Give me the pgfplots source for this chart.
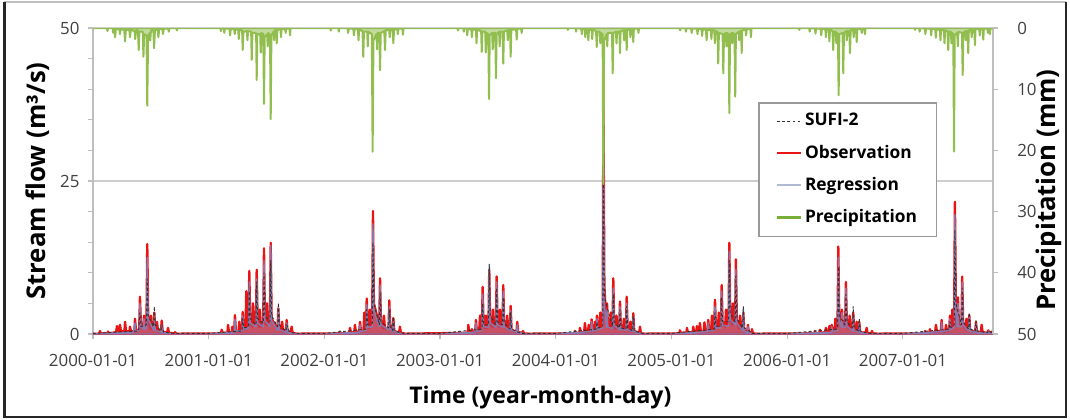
\documentclass[border=0pt]{standalone}
\usepackage{pgfplots}
\pgfplotsset{compat=1.18}
\usepackage{pgfplotstable}
\usepackage{fontspec}
\setmainfont{Open Sans}
\definecolor{obsred}{RGB}{235,20,20}
\definecolor{precgreen}{RGB}{146,190,80}
\definecolor{leggreen}{RGB}{120,175,55}
\definecolor{regblue}{RGB}{120,140,205}
\definecolor{leggray}{RGB}{175,185,210}
\definecolor{axgray}{RGB}{190,190,190}
\definecolor{gridgray}{RGB}{205,205,205}
\definecolor{labgray}{RGB}{64,64,64}

\pgfplotstableread{
x y
2000.000 0.05
2000.055 0.05
2000.060 0.5
2000.068 0.1
2000.125 0.1
2000.130 0.4
2000.138 0.1
2000.200 0.3
2000.207 1.3
2000.215 0.5
2000.228 0.4
2000.233 1.5
2000.241 0.5
2000.272 0.4
2000.277 2.0
2000.285 0.5
2000.315 0.4
2000.320 1.2
2000.328 0.4
2000.358 0.5
2000.363 2.5
2000.371 0.7
2000.399 0.7
2000.406 6.1
2000.414 1.5
2000.434 1.0
2000.441 3.0
2000.449 1.0
2000.462 1.2
2000.469 14.7
2000.477 3.0
2000.494 0.8
2000.501 3.0
2000.509 0.8
2000.523 0.7
2000.530 3.5
2000.538 0.7
2000.546 0.6
2000.553 2.0
2000.561 0.5
2000.587 0.4
2000.594 2.2
2000.602 0.4
2000.641 0.2
2000.648 1.0
2000.656 0.2
2000.704 0.1
2000.709 0.3
2000.720 0.05
2001.107 0.1
2001.112 0.7
2001.120 0.2
2001.162 0.2
2001.167 1.5
2001.175 0.3
2001.200 0.3
2001.205 1.2
2001.213 0.3
2001.220 0.4
2001.227 3.1
2001.235 0.5
2001.258 0.5
2001.265 2.0
2001.273 0.5
2001.287 0.6
2001.294 3.6
2001.302 0.8
2001.318 0.8
2001.325 7.0
2001.333 1.5
2001.344 1.2
2001.351 10.3
2001.359 2.0
2001.376 1.2
2001.383 5.0
2001.391 1.5
2001.408 1.5
2001.415 10.5
2001.423 2.0
2001.436 1.2
2001.443 4.0
2001.451 1.2
2001.471 1.5
2001.478 14.0
2001.486 2.5
2001.497 1.5
2001.504 5.0
2001.512 1.5
2001.529 1.5
2001.536 14.9
2001.544 2.5
2001.595 0.8
2001.602 4.2
2001.610 0.8
2001.628 0.6
2001.635 2.0
2001.643 0.5
2001.667 0.4
2001.674 2.3
2001.682 0.4
2001.710 0.3
2001.717 1.2
2001.725 0.2
2001.760 0.05
2002.130 0.1
2002.135 0.4
2002.143 0.1
2002.216 0.2
2002.221 1.0
2002.229 0.3
2002.259 0.3
2002.264 1.5
2002.272 0.4
2002.301 0.4
2002.308 2.0
2002.316 0.5
2002.338 0.5
2002.345 3.5
2002.353 0.7
2002.359 0.7
2002.366 5.8
2002.374 1.2
2002.387 1.0
2002.394 4.0
2002.402 1.5
2002.413 1.8
2002.420 20.1
2002.428 5.0
2002.474 1.5
2002.481 9.1
2002.489 1.8
2002.508 0.9
2002.515 3.0
2002.523 0.9
2002.554 0.9
2002.561 5.5
2002.569 1.0
2002.589 0.5
2002.596 2.6
2002.604 0.5
2002.646 0.2
2002.653 1.2
2002.661 0.2
2002.700 0.05
2003.239 0.2
2003.244 1.5
2003.252 0.3
2003.271 0.2
2003.276 0.8
2003.284 0.3
2003.303 0.3
2003.310 2.3
2003.318 0.5
2003.338 0.5
2003.345 3.0
2003.353 0.7
2003.361 0.7
2003.368 7.7
2003.376 1.5
2003.390 1.0
2003.397 3.0
2003.405 1.0
2003.418 1.2
2003.425 10.5
2003.433 2.0
2003.450 1.2
2003.457 4.0
2003.465 1.2
2003.482 1.2
2003.489 9.4
2003.497 1.8
2003.511 1.2
2003.518 4.0
2003.526 1.2
2003.539 1.2
2003.546 8.0
2003.554 1.5
2003.573 0.9
2003.580 3.0
2003.588 0.8
2003.603 0.7
2003.610 4.6
2003.618 0.7
2003.660 0.3
2003.667 2.0
2003.675 0.3
2003.712 0.2
2003.717 0.5
2003.725 0.1
2003.760 0.05
2004.161 0.1
2004.166 0.5
2004.174 0.2
2004.204 0.2
2004.209 1.0
2004.217 0.3
2004.245 0.3
2004.252 1.8
2004.260 0.4
2004.278 0.4
2004.285 1.5
2004.293 0.4
2004.303 0.5
2004.310 2.4
2004.318 0.6
2004.333 0.6
2004.340 2.0
2004.348 0.6
2004.349 0.7
2004.356 3.0
2004.364 0.9
2004.378 0.9
2004.385 3.5
2004.393 1.1
2004.405 1.5
2004.412 38.5
2004.420 8.0
2004.436 1.5
2004.443 5.0
2004.451 1.2
2004.468 1.0
2004.475 3.5
2004.483 1.0
2004.490 1.0
2004.497 9.1
2004.505 1.7
2004.518 0.9
2004.525 3.0
2004.533 0.9
2004.548 0.9
2004.555 5.3
2004.563 0.9
2004.581 0.6
2004.588 2.5
2004.596 0.6
2004.606 0.7
2004.613 6.1
2004.621 0.9
2004.638 0.5
2004.645 2.0
2004.653 0.5
2004.663 0.5
2004.670 3.4
2004.678 0.5
2004.721 0.2
2004.728 1.2
2004.736 0.1
2004.770 0.05
2005.068 0.1
2005.073 0.6
2005.081 0.2
2005.129 0.2
2005.134 1.0
2005.142 0.2
2005.183 0.3
2005.188 1.2
2005.196 0.3
2005.213 0.3
2005.220 1.3
2005.228 0.3
2005.239 0.4
2005.246 1.8
2005.254 0.4
2005.278 0.4
2005.285 1.9
2005.293 0.5
2005.311 0.5
2005.318 2.3
2005.326 0.6
2005.343 0.6
2005.350 3.0
2005.358 0.7
2005.369 0.7
2005.376 5.6
2005.384 1.2
2005.402 1.1
2005.409 3.5
2005.417 1.2
2005.427 1.2
2005.434 8.0
2005.442 1.7
2005.464 1.2
2005.471 4.0
2005.479 1.5
2005.493 1.5
2005.500 14.9
2005.508 3.0
2005.525 1.5
2005.532 5.0
2005.540 1.8
2005.550 1.8
2005.557 12.2
2005.565 2.2
2005.585 0.9
2005.592 3.0
2005.600 0.9
2005.614 0.7
2005.621 3.5
2005.629 0.6
2005.654 0.3
2005.661 1.5
2005.669 0.3
2005.691 0.2
2005.696 0.8
2005.704 0.1
2005.740 0.05
2006.192 0.1
2006.197 0.3
2006.205 0.1
2006.235 0.1
2006.240 0.5
2006.248 0.1
2006.278 0.2
2006.283 0.7
2006.291 0.2
2006.328 0.3
2006.335 1.0
2006.343 0.3
2006.358 0.3
2006.365 1.3
2006.373 0.4
2006.378 0.4
2006.385 1.5
2006.393 0.5
2006.410 0.5
2006.417 2.5
2006.425 0.9
2006.435 1.0
2006.442 14.3
2006.450 3.0
2006.467 1.2
2006.474 4.0
2006.482 1.2
2006.501 1.2
2006.508 8.5
2006.516 1.5
2006.533 0.9
2006.540 3.0
2006.548 0.9
2006.564 0.7
2006.571 3.5
2006.579 0.6
2006.593 0.5
2006.600 2.0
2006.608 0.4
2006.616 0.4
2006.623 2.0
2006.631 0.3
2006.680 0.2
2006.687 1.0
2006.695 0.1
2006.728 0.1
2006.733 0.5
2006.741 0.1
2006.780 0.05
2007.186 0.1
2007.191 0.5
2007.199 0.2
2007.229 0.2
2007.234 0.8
2007.242 0.2
2007.279 0.3
2007.286 1.5
2007.294 0.4
2007.328 0.5
2007.335 2.3
2007.343 0.5
2007.366 0.4
2007.373 1.5
2007.381 0.5
2007.400 0.6
2007.407 3.0
2007.415 0.9
2007.421 0.9
2007.428 4.0
2007.436 1.2
2007.443 1.5
2007.450 21.6
2007.458 5.0
2007.469 1.8
2007.476 6.0
2007.484 1.5
2007.506 1.5
2007.513 9.4
2007.521 1.8
2007.543 0.9
2007.550 2.5
2007.558 0.7
2007.567 0.6
2007.574 3.1
2007.582 0.6
2007.625 0.4
2007.632 2.0
2007.640 0.4
2007.674 0.3
2007.681 1.5
2007.689 0.3
2007.733 0.2
2007.738 0.6
2007.746 0.2
2007.765 0.2
2007.770 0.4
2007.779 0.2
}\obs

\pgfplotstableread{
x y
2000.000 0
2000.350 0.3
2000.363 1.8
2000.370 0.5
2000.400 0.6
2000.406 5.0
2000.414 1.2
2000.436 0.8
2000.441 2.5
2000.449 0.8
2000.463 1.0
2000.469 12.5
2000.477 2.5
2000.524 0.6
2000.530 3.0
2000.538 0.6
2000.588 0.3
2000.594 1.5
2000.602 0.3
2000.650 0.1
2000.700 0
2001.000 0
2001.220 0.3
2001.227 2.4
2001.235 0.5
2001.288 0.5
2001.294 3.0
2001.302 0.7
2001.345 1.0
2001.351 8.5
2001.359 1.8
2001.409 1.2
2001.415 9.0
2001.423 1.8
2001.472 1.2
2001.478 12.0
2001.486 2.2
2001.530 1.2
2001.536 14.5
2001.544 2.2
2001.596 0.6
2001.602 4.5
2001.610 0.7
2001.668 0.3
2001.674 1.8
2001.682 0.3
2001.750 0
2002.000 0
2002.300 0.3
2002.308 1.5
2002.316 0.4
2002.360 0.6
2002.366 4.8
2002.374 1.1
2002.414 1.2
2002.420 18.0
2002.428 4.0
2002.475 1.2
2002.481 8.0
2002.489 1.5
2002.555 0.7
2002.561 4.5
2002.569 0.8
2002.590 0.4
2002.596 2.0
2002.604 0.4
2002.680 0
2003.000 0
2003.300 0.3
2003.310 1.8
2003.318 0.4
2003.362 0.6
2003.368 6.5
2003.376 1.2
2003.419 1.1
2003.425 11.4
2003.433 1.8
2003.483 1.1
2003.489 8.5
2003.497 1.5
2003.540 1.1
2003.546 7.0
2003.554 1.2
2003.604 0.6
2003.610 3.8
2003.618 0.6
2003.661 0.3
2003.667 1.5
2003.675 0.3
2003.740 0
2004.000 0
2004.300 0.4
2004.310 2.0
2004.318 0.5
2004.350 0.6
2004.356 2.5
2004.364 0.7
2004.406 1.0
2004.412 36.0
2004.420 5.0
2004.437 1.1
2004.443 4.0
2004.451 1.1
2004.491 0.9
2004.497 7.5
2004.505 1.4
2004.549 0.7
2004.555 4.5
2004.563 0.7
2004.607 0.6
2004.613 5.0
2004.621 0.7
2004.664 0.4
2004.670 2.8
2004.678 0.4
2004.750 0
2005.000 0
2005.310 0.4
2005.318 1.8
2005.326 0.5
2005.370 0.6
2005.376 4.5
2005.384 1.0
2005.428 1.0
2005.434 7.0
2005.442 1.4
2005.494 1.3
2005.500 13.5
2005.508 2.4
2005.551 1.5
2005.557 10.5
2005.565 1.8
2005.615 0.5
2005.621 4.0
2005.629 0.5
2005.655 0.2
2005.661 1.2
2005.669 0.2
2005.720 0
2006.000 0
2006.380 0.3
2006.385 1.2
2006.393 0.4
2006.436 0.6
2006.442 12.5
2006.450 2.2
2006.468 1.1
2006.474 3.5
2006.482 1.1
2006.502 1.1
2006.508 7.5
2006.516 1.3
2006.565 0.5
2006.571 3.0
2006.579 0.5
2006.617 0.3
2006.623 1.7
2006.631 0.3
2006.700 0
2007.000 0
2007.330 0.4
2007.335 1.9
2007.343 0.4
2007.401 0.6
2007.407 2.5
2007.415 0.7
2007.444 1.2
2007.450 19.5
2007.458 4.0
2007.470 1.2
2007.476 5.0
2007.484 1.2
2007.507 1.2
2007.513 8.5
2007.521 1.5
2007.568 0.5
2007.574 2.7
2007.582 0.5
2007.626 0.3
2007.632 1.7
2007.640 0.3
2007.732 0.1
2007.738 0.5
2007.746 0.1
2007.779 0.1
}\reg

\pgfplotstableread{
x y
2000.000 0.1
2000.395 0.5
2000.406 3.5
2000.414 1.2
2000.462 1.5
2000.469 9.0
2000.477 3.0
2000.523 1.2
2000.530 4.5
2000.538 1.5
2000.588 0.5
2000.594 1.5
2000.610 0.3
2000.700 0.1
2001.000 0.1
2001.288 0.5
2001.294 2.5
2001.302 1.0
2001.345 1.2
2001.351 7.0
2001.359 2.5
2001.409 1.5
2001.415 8.5
2001.423 2.5
2001.472 1.8
2001.478 10.0
2001.486 3.0
2001.530 2.0
2001.536 12.0
2001.544 3.0
2001.596 1.2
2001.602 5.1
2001.610 1.5
2001.668 0.5
2001.674 1.5
2001.700 0.3
2001.750 0.1
2002.000 0.1
2002.360 0.8
2002.366 4.0
2002.374 1.5
2002.414 1.8
2002.420 15.0
2002.428 5.0
2002.475 1.5
2002.481 7.0
2002.489 2.0
2002.555 1.0
2002.561 4.0
2002.569 1.2
2002.590 0.6
2002.596 2.8
2002.604 0.5
2002.680 0.1
2003.000 0.1
2003.362 0.8
2003.368 5.0
2003.376 1.5
2003.419 1.5
2003.425 11.4
2003.433 3.0
2003.483 1.5
2003.489 7.5
2003.497 2.0
2003.540 1.5
2003.546 6.0
2003.554 1.8
2003.604 0.8
2003.610 3.5
2003.618 0.8
2003.700 0.1
2004.000 0.1
2004.350 0.8
2004.356 2.0
2004.364 1.0
2004.406 1.2
2004.412 30.0
2004.420 6.0
2004.491 1.2
2004.497 6.5
2004.505 2.0
2004.549 1.0
2004.555 4.0
2004.563 1.0
2004.607 0.8
2004.613 4.5
2004.621 1.0
2004.664 0.5
2004.670 3.0
2004.678 0.5
2004.750 0.1
2005.000 0.1
2005.370 0.8
2005.376 3.5
2005.384 1.3
2005.428 1.3
2005.434 6.0
2005.442 2.0
2005.494 2.0
2005.500 12.0
2005.508 3.5
2005.551 2.0
2005.557 9.5
2005.565 2.5
2005.615 1.0
2005.621 4.5
2005.629 1.0
2005.700 0.1
2006.000 0.1
2006.436 0.8
2006.442 11.0
2006.450 3.0
2006.502 1.5
2006.508 6.5
2006.516 2.0
2006.565 1.0
2006.571 4.5
2006.579 1.2
2006.617 0.5
2006.623 2.5
2006.631 0.5
2006.700 0.1
2007.000 0.1
2007.401 0.8
2007.407 2.0
2007.415 1.0
2007.444 1.5
2007.450 17.0
2007.458 5.0
2007.507 1.5
2007.513 7.5
2007.521 2.0
2007.568 0.8
2007.574 3.5
2007.582 0.8
2007.626 0.5
2007.632 2.2
2007.640 0.5
2007.732 0.2
2007.738 0.6
2007.779 0.1
}\sufi

\pgfplotstableread{
x y
2000.000 0
2000.120 0
2000.125 0.5
2000.130 0
2000.170 0
2000.175 0.8
2000.180 0.1
2000.186 0.1
2000.191 1.5
2000.197 0.2
2000.228 0.2
2000.233 1.0
2000.240 0.2
2000.270 0.3
2000.277 2.2
2000.284 0.3
2000.314 0.3
2000.320 1.5
2000.327 0.3
2000.360 0.5
2000.365 1.8
2000.372 0.4
2000.389 0.4
2000.395 3.6
2000.401 0.6
2000.430 0.6
2000.436 4.7
2000.442 1.0
2000.463 1.2
2000.469 12.7
2000.476 1.5
2000.490 0.8
2000.495 2.0
2000.501 0.4
2000.522 0.4
2000.528 3.3
2000.535 0.4
2000.560 0.2
2000.565 1.5
2000.572 0.2
2000.600 0.1
2000.605 1.0
2000.612 0.1
2000.650 0.1
2000.655 0.6
2000.662 0
2000.720 0
2000.725 0.4
2000.730 0
2001.100 0
2001.105 0.5
2001.110 0
2001.130 0.1
2001.135 0.8
2001.140 0.1
2001.180 0.1
2001.185 1.2
2001.190 0.2
2001.220 0.2
2001.225 1.0
2001.230 0.2
2001.255 0.3
2001.260 1.8
2001.266 0.3
2001.289 0.4
2001.294 3.6
2001.300 0.6
2001.330 0.5
2001.335 2.0
2001.340 0.5
2001.367 0.6
2001.372 5.2
2001.378 0.8
2001.410 0.8
2001.415 8.5
2001.420 1.0
2001.445 1.0
2001.450 4.0
2001.456 0.8
2001.472 1.0
2001.478 12.4
2001.484 1.5
2001.505 1.0
2001.510 3.0
2001.516 0.8
2001.530 1.2
2001.536 14.9
2001.542 1.2
2001.560 0.6
2001.565 2.0
2001.570 0.4
2001.583 0.4
2001.588 2.5
2001.594 0.3
2001.620 0.2
2001.625 1.5
2001.630 0.2
2001.660 0.1
2001.665 0.8
2001.670 0.1
2001.698 0.1
2001.703 1.2
2001.708 0
2002.050 0
2002.055 0.4
2002.060 0
2002.120 0
2002.125 0.6
2002.130 0
2002.200 0
2002.205 0.8
2002.210 0.1
2002.250 0.1
2002.255 1.2
2002.260 0.2
2002.290 0.2
2002.295 2.0
2002.300 0.3
2002.330 0.5
2002.336 4.7
2002.342 0.6
2002.370 0.6
2002.375 3.0
2002.380 0.6
2002.410 1.0
2002.417 20.2
2002.424 2.0
2002.450 1.0
2002.455 3.5
2002.460 0.8
2002.475 0.8
2002.481 6.9
2002.487 0.8
2002.518 0.5
2002.524 3.6
2002.530 0.4
2002.560 0.3
2002.565 1.5
2002.570 0.3
2002.590 0.3
2002.596 2.5
2002.602 0.3
2002.630 0.1
2002.635 1.0
2002.640 0.1
2002.674 0.1
2002.679 1.1
2002.684 0
2003.150 0
2003.155 0.4
2003.160 0
2003.200 0
2003.205 0.6
2003.210 0
2003.230 0.1
2003.235 1.2
2003.240 0.1
2003.270 0.2
2003.275 1.5
2003.280 0.2
2003.310 0.3
2003.315 2.5
2003.320 0.3
2003.355 0.5
2003.360 3.9
2003.366 0.6
2003.390 0.6
2003.395 4.0
2003.400 0.8
2003.417 1.0
2003.423 11.6
2003.429 1.2
2003.450 0.8
2003.455 3.5
2003.460 0.8
2003.477 0.8
2003.483 8.2
2003.489 1.0
2003.510 0.6
2003.515 3.0
2003.520 0.6
2003.540 0.6
2003.546 5.8
2003.552 0.6
2003.580 0.4
2003.585 2.0
2003.590 0.4
2003.605 0.4
2003.610 4.7
2003.616 0.3
2003.657 0.2
2003.662 1.9
2003.668 0.1
2003.700 0.1
2003.705 0.8
2003.710 0
2004.100 0
2004.105 0.3
2004.110 0
2004.170 0
2004.175 0.6
2004.180 0
2004.220 0.1
2004.225 1.0
2004.230 0.1
2004.250 0.2
2004.255 1.5
2004.260 0.2
2004.276 0.3
2004.281 2.0
2004.287 0.3
2004.310 0.3
2004.315 1.8
2004.320 0.3
2004.348 0.5
2004.354 3.1
2004.360 0.6
2004.380 0.6
2004.385 2.5
2004.390 0.8
2004.405 1.0
2004.411 25.5
2004.418 2.0
2004.440 1.0
2004.445 3.0
2004.450 0.8
2004.486 0.8
2004.492 7.4
2004.498 0.8
2004.520 0.6
2004.525 2.5
2004.530 0.6
2004.550 0.6
2004.555 4.1
2004.560 0.5
2004.585 0.4
2004.590 2.0
2004.595 0.4
2004.608 0.4
2004.613 3.6
2004.618 0.3
2004.640 0.2
2004.645 1.5
2004.650 0.2
2004.665 0.2
2004.670 2.3
2004.675 0.1
2004.710 0.1
2004.715 0.8
2004.720 0
2005.070 0
2005.075 0.4
2005.080 0
2005.120 0
2005.125 0.6
2005.130 0
2005.170 0.1
2005.175 0.8
2005.180 0.1
2005.220 0.1
2005.225 1.0
2005.230 0.1
2005.260 0.2
2005.265 1.3
2005.270 0.2
2005.298 0.3
2005.304 2.0
2005.310 0.3
2005.340 0.3
2005.345 1.8
2005.350 0.4
2005.370 0.4
2005.375 2.5
2005.380 0.5
2005.398 0.6
2005.404 5.8
2005.410 0.8
2005.442 1.0
2005.448 7.4
2005.454 1.0
2005.470 0.8
2005.475 3.0
2005.480 0.8
2005.494 1.0
2005.500 13.9
2005.506 1.2
2005.520 0.8
2005.525 2.5
2005.530 0.8
2005.545 1.0
2005.551 11.2
2005.557 1.0
2005.580 0.6
2005.585 2.0
2005.590 0.5
2005.602 0.5
2005.607 4.1
2005.612 0.4
2005.640 0.2
2005.645 1.2
2005.650 0.2
2005.682 0.1
2005.687 1.5
2005.692 0
2006.100 0
2006.105 0.3
2006.110 0
2006.190 0
2006.195 0.6
2006.200 0
2006.240 0.1
2006.245 0.9
2006.250 0.1
2006.290 0.1
2006.295 1.2
2006.300 0.1
2006.330 0.2
2006.335 1.5
2006.340 0.2
2006.360 0.3
2006.365 2.2
2006.370 0.3
2006.392 0.5
2006.398 3.6
2006.404 0.6
2006.420 0.6
2006.425 2.5
2006.430 0.8
2006.439 1.0
2006.445 11.0
2006.451 1.0
2006.479 0.8
2006.485 7.4
2006.491 0.8
2006.510 0.5
2006.515 2.0
2006.520 0.5
2006.537 0.5
2006.543 4.1
2006.549 0.4
2006.570 0.3
2006.575 1.5
2006.580 0.3
2006.596 0.2
2006.601 2.3
2006.606 0.2
2006.640 0.1
2006.645 0.8
2006.650 0.1
2006.667 0.1
2006.672 1.0
2006.677 0
2007.100 0
2007.105 0.3
2007.110 0
2007.140 0
2007.145 0.6
2007.150 0
2007.190 0.1
2007.195 1.0
2007.200 0.1
2007.240 0.1
2007.245 1.2
2007.250 0.1
2007.280 0.2
2007.285 1.6
2007.290 0.2
2007.320 0.3
2007.325 2.0
2007.330 0.3
2007.355 0.4
2007.360 2.5
2007.365 0.4
2007.386 0.5
2007.392 3.6
2007.398 0.6
2007.415 0.6
2007.420 2.5
2007.425 0.8
2007.436 1.0
2007.442 20.2
2007.448 1.2
2007.470 0.8
2007.475 3.0
2007.480 0.6
2007.511 0.8
2007.517 7.7
2007.523 0.8
2007.540 0.5
2007.545 2.0
2007.550 0.5
2007.560 0.5
2007.565 4.1
2007.570 0.4
2007.590 0.3
2007.595 1.5
2007.600 0.3
2007.618 0.3
2007.623 2.8
2007.628 0.2
2007.660 0.2
2007.665 1.2
2007.670 0.2
2007.690 0.2
2007.695 1.9
2007.700 0.1
2007.730 0.1
2007.735 0.8
2007.740 0.1
2007.747 0.1
2007.752 1.0
2007.757 0.1
2007.779 0
}\prec

\begin{document}
\begin{tikzpicture}
\pgfplotsset{
  every tick label/.append style={font=\fontsize{7.2}{8}\selectfont, text=labgray},
  /pgf/number format/assume math mode=true,
}
\begin{axis}[
  at={(0,0)}, anchor=south west,
  scale only axis, width=13.5cm, height=4.59cm,
  xmin=2000, xmax=2007.779, ymin=0, ymax=50,
  axis x line*=bottom, axis y line*=left,
  axis line style={draw=axgray, line width=0.5pt},
  xtick={2000,2001,2002,2003,2004,2005,2006,2007},
  xticklabels={2000-01-01,2001-01-01,2002-01-01,2003-01-01,2004-01-01,2005-01-01,2006-01-01,2007-01-01},
  ytick={0,25,50},
  minor ytick={5,10,15,20,30,35,40,45},
  tick align=outside,
  major tick length=0.08cm, minor tick length=0.08cm,
  tick style={draw=axgray, line width=0.5pt},
  ymajorgrids, major grid style={draw=gridgray, line width=0.5pt},
  xticklabel style={yshift=-0.1cm},
  yticklabel style={xshift=0cm},
  xlabel={\bfseries Time (year-month-day)},
  xlabel style={font=\fontsize{9.8}{11}\selectfont, at={(axis description cs:0.497,-0.206)}, anchor=center},
  ylabel={\bfseries Stream flow (m³/s)},
  ylabel style={font=\fontsize{11}{13}\selectfont, at={(axis description cs:-0.061,0.5)}, anchor=center},
  line join=round,
]
\addplot[draw=obsred, fill=obsred!85, line width=1.0pt] table[x=x,y=y] {\obs} \closedcycle;
\addplot[draw=regblue, fill=regblue, fill opacity=0.3, draw opacity=0.8, line width=0.6pt] table[x=x,y=y] {\reg} \closedcycle;
\addplot[black!80, line width=0.4pt, dash pattern=on 1.2pt off 1pt] table[x=x,y=y] {\sufi};
\end{axis}
\begin{axis}[
  at={(0,0)}, anchor=south west,
  scale only axis, width=13.5cm, height=4.59cm,
  xmin=2000, xmax=2007.779, ymin=0, ymax=50,
  y dir=reverse,
  axis x line=none, axis y line*=right,
  axis line style={draw=axgray, line width=0.5pt},
  ytick={0,10,20,30,40,50},
  tick align=outside, major tick length=0.08cm,
  tick style={draw=axgray, line width=0.5pt},
  yticklabel style={xshift=0.16cm},
  ylabel={\bfseries Precipitation (mm)},
  ylabel style={font=\fontsize{11}{13}\selectfont, at={(axis description cs:1.062,0.47)}, anchor=center, rotate=0},
  line join=round,
  legend style={name=leg, at={(axis description cs:0.74,0.755)}, anchor=north west,
    draw=none, fill=white,
    font=\fontsize{7.4}{8.5}\selectfont\bfseries,
    inner xsep=7pt, inner ysep=3pt, row sep=4.2pt,
    nodes={inner sep=1.2pt}},
  legend cell align=left,
]
\addlegendimage{legend image code/.code={\draw[black!80, line width=0.5pt, dash pattern=on 1.2pt off 1pt] (0cm,0cm) -- (0.36cm,0cm);}}
\addlegendentry{SUFI-2}
\addlegendimage{legend image code/.code={\draw[obsred, line width=0.7pt] (0cm,0cm) -- (0.36cm,0cm);}}
\addlegendentry{Observation}
\addlegendimage{legend image code/.code={\draw[leggray, line width=0.9pt] (0cm,0cm) -- (0.36cm,0cm);}}
\addlegendentry{Regression}
\addlegendimage{legend image code/.code={\draw[leggreen, line width=1.0pt] (0cm,0cm) -- (0.36cm,0cm);}}
\addlegendentry{Precipitation}
\addplot[draw=precgreen, fill=precgreen!55, line width=0.85pt, forget plot] table[x=x,y=y] {\prec} \closedcycle;
\end{axis}
\draw[gray!80, line width=0.5pt] (leg.south west) rectangle (leg.north east);
\useasboundingbox (-1.395,-1.275) rectangle (14.655,5.01);
\draw[gray!50, line width=0.6pt] (-1.33,4.98) -- (14.60,4.98);
\draw[black!85, line width=1.1pt] (-1.33,4.98) -- (-1.33,-1.245) -- (14.595,-1.245) -- (14.595,4.98);
\end{tikzpicture}
\end{document}
